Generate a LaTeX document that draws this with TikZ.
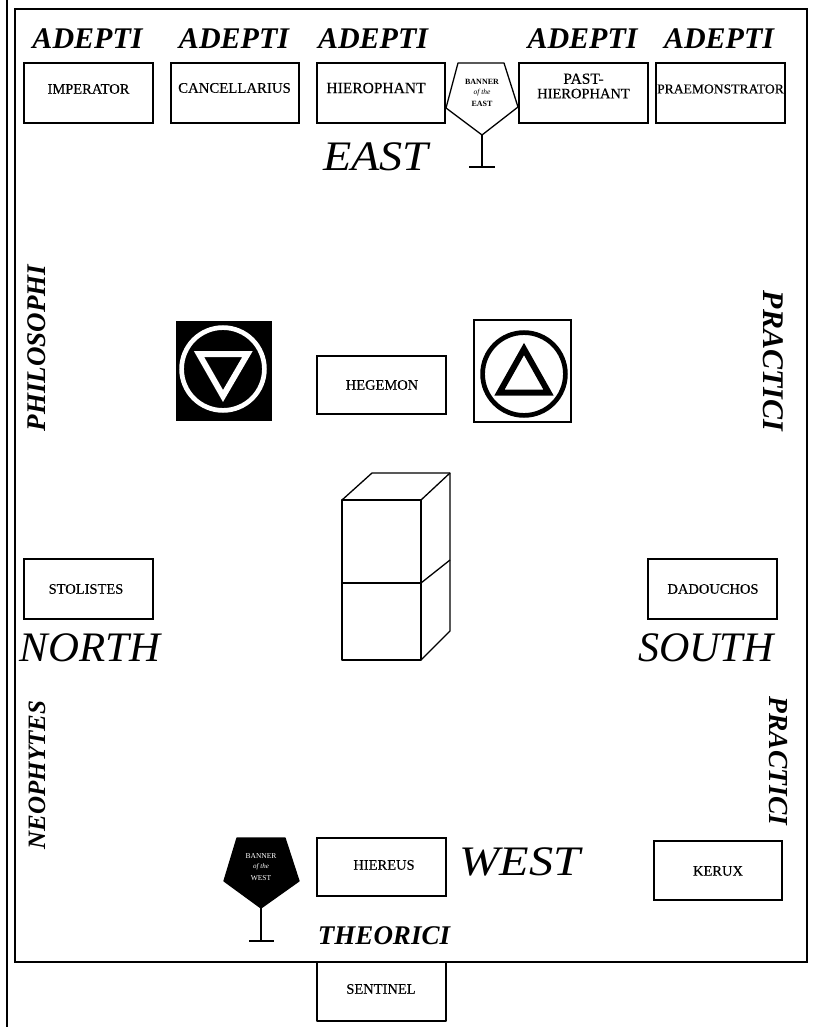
\documentclass[tikz,border=0pt]{standalone}
\usepackage{fontspec}
\usepackage{graphicx}
\setmainfont{Liberation Serif}
\newfontfamily\officefont[FakeBold=0.35]{Liberation Serif}
\newcommand{\fs}[1]{\fontsize{#1}{#1}\selectfont}
\newcommand{\bx}[8]{%
  \node[officebox,minimum width=#4-#2,minimum height=#5-#3] (#1) at ({(#2+#4)/2},{(#3+#5)/2}) {};
  \node[officetext] (#1t) at (#6,#7) {#8};}
\tikzset{
  x=1pt,y=-1pt,
  every node/.style={inner sep=0pt,outer sep=0pt},
  officebox/.style={draw=black,line width=1.3pt,fill=white,rectangle},
  officetext/.style={font=\officefont\fs{14.5},align=center,text=black},
  grade/.style={font=\fs{30}\bfseries\itshape,text=black},
  quarter/.style={font=\fs{42}\itshape,text=black},
  sidegrade/.style={font=\fs{28}\bfseries\itshape,text=black},
  thin line/.style={line width=1.3pt,line join=round},
  banner/.style={draw=black,line width=1.3pt,line join=round},
}
\begin{document}
\begin{tikzpicture}
\useasboundingbox (0,0) rectangle (813,1027);
% frame
\coordinate (ftop) at (7,0); \coordinate (fbot) at (7,1027);
\draw[line width=1.5pt] (ftop) -- (fbot);
\draw[line width=1.5pt] (15,9) rectangle (807,962);
% adepti
\node[grade] (a1) at (87.5,39) {ADEPTI};
\node[grade] (a2) at (234,39) {ADEPTI};
\node[grade] (a3) at (373,39) {ADEPTI};
\node[grade] (a4) at (582.5,39) {ADEPTI};
\node[grade] (a5) at (719,39) {ADEPTI};
% top boxes
\bx{imp}{24}{63}{153}{123}{88.5}{89}{IMPERATOR}
\bx{can}{171}{63}{299}{123}{234.5}{88}{\fs{14.8}CANCELLARIUS}
\bx{hie}{317}{63}{445}{123}{376}{88}{\fs{15.5}HIEROPHANT}
\bx{pas}{519}{63}{648}{123}{583.5}{86}{\fs{15.5}\baselineskip=18pt PAST-\\HIEROPHANT}
\bx{pra}{656}{63}{785}{123}{720.5}{89}{\fs{13.6}PRAEMONSTRATOR}
% banner east
\draw[banner,fill=white] (458,63) -- (504,63) -- (518,107) -- (482,135) -- (446,108) -- cycle;
\draw[banner] (482,135) -- (482,167) (469,167) -- (495,167);
\node[font=\fs{8}\bfseries] (be1) at (482,82) {BANNER};
\node[font=\fs{7.5}\itshape] (be2) at (482,93) {of the};
\node[font=\fs{8}\bfseries] (be3) at (482,104) {EAST};
\node[quarter] (east) at (376,157) {\scalebox{1.1}[1]{EAST}};
% black square
\fill[black] (176,321) rectangle (272,421);
\draw[white,line width=4.7pt] (223,369) circle (41.4);
\draw[white,line width=6pt,line join=miter] (199,354) -- (247.5,354) -- (223,396) -- cycle;
% white square
\draw[line width=1.3pt] (474,320) rectangle (571,422);
\draw[line width=4.7pt] (524,374) circle (41.4);
\draw[line width=6pt,line join=miter] (524,349) -- (548.5,392.5) -- (499.5,392.5) -- cycle;
\bx{heg}{317}{356}{446}{414}{382}{385}{HEGEMON}
% cube
\draw[thin line] (342,500) rectangle (421,660);
\draw[thin line] (342,583) -- (421,583);
\draw[thin line] (342,500) -- (372,473) -- (450,473) -- (450,631) -- (421,660);
\draw[thin line] (421,500) -- (450,473);
\draw[thin line] (421,583) -- (450,560);
% sides
\bx{sto}{24}{559}{153}{619}{86}{589}{STOLISTES}
\bx{dad}{648}{559}{777}{619}{713}{589}{DADOUCHOS}
\node[quarter] (north) at (90,648) {\scalebox{1.02}[1]{NORTH}};
\node[quarter] (south) at (706,648) {SOUTH};
\node[sidegrade,font=\fs{27}\bfseries\itshape,rotate=90] (phil) at (37,348) {PHILOSOPHI};
\node[sidegrade,font=\fs{30}\bfseries\itshape,rotate=-90] (pr1) at (773,361) {PRACTICI};
\node[sidegrade,font=\fs{27.5}\bfseries\itshape,rotate=-90] (pr2) at (778,761) {PRACTICI};
\node[sidegrade,font=\fs{25}\bfseries\itshape,rotate=90] (neo) at (37,775) {NEOPHYTES};
% west
\bx{hrs}{317}{838}{446}{896}{384}{865}{HIEREUS}
\bx{ker}{654}{841}{782}{900}{718}{871}{KERUX}
\draw[banner,fill=black] (237,838) -- (285,838) -- (299,881) -- (261,908) -- (224,881) -- cycle;
\draw[banner] (261,908) -- (261,941) (249,941) -- (274,941);
\node[font=\fs{7.5},text=white] (bw1) at (261,856) {BANNER};
\node[font=\fs{7}\itshape,text=white] (bw2) at (261,867) {of the};
\node[font=\fs{7.5},text=white] (bw3) at (261,878) {WEST};
\node[quarter] (west) at (520,862) {\scalebox{1.15}[1]{WEST}};
\node[grade,font=\fs{27}\bfseries\itshape] (theo) at (384,936) {THEORICI};
% sentinel
\coordinate (s1) at (317,962); \coordinate (s2) at (317,1021); \coordinate (s3) at (446,1021); \coordinate (s4) at (446,962);
\draw[thin line] (s1) -- (s2) -- (s3) -- (s4);
\node[officetext] (sen) at (381,989) {SENTINEL};
\end{tikzpicture}
\end{document}
